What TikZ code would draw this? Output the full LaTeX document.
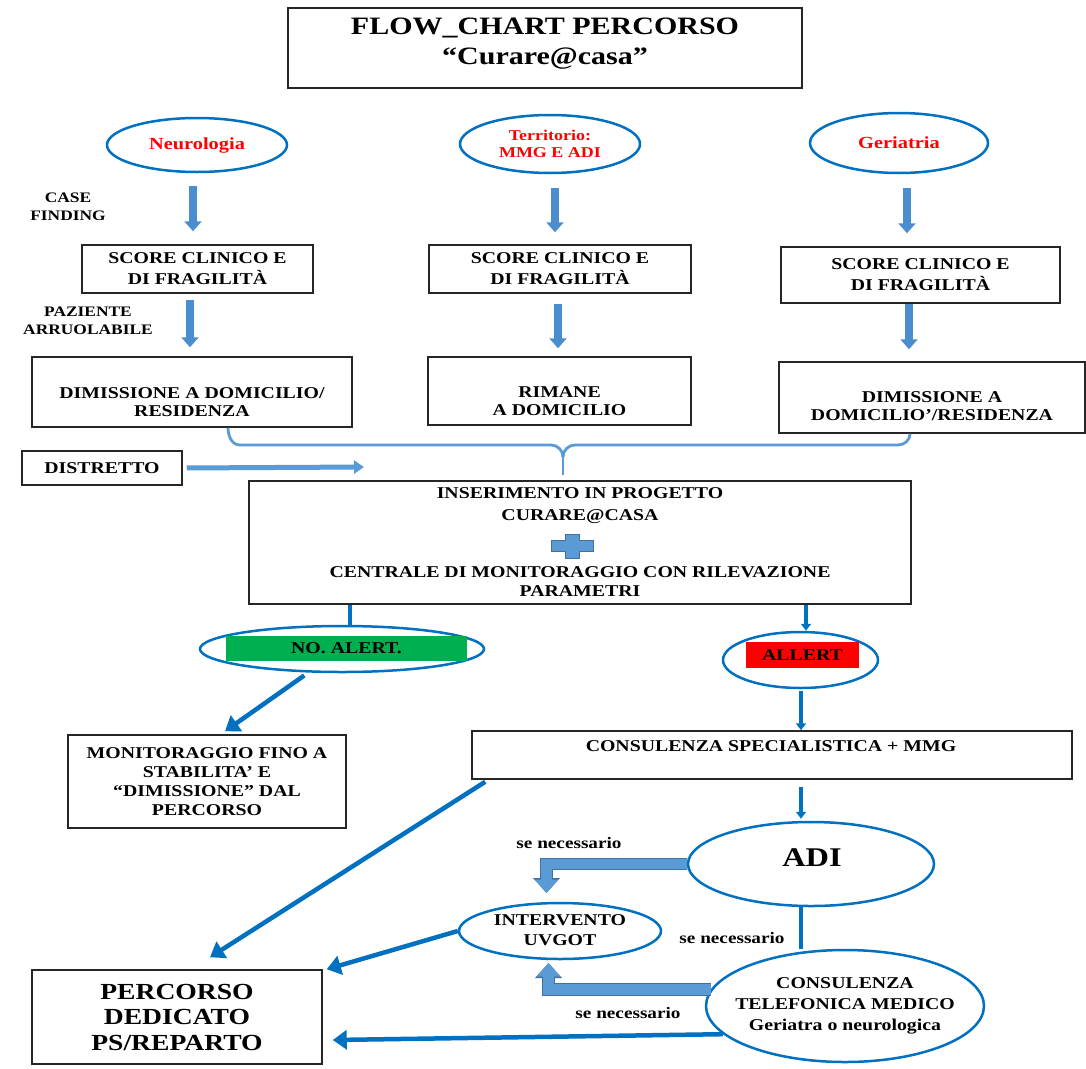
\documentclass[tikz,border=0pt]{standalone}
\usepackage{fontspec}
\setmainfont{Liberation Serif}[FakeStretch=1.2]
\usetikzlibrary{shapes.geometric,arrows.meta,calc}
\definecolor{dblue}{RGB}{0,112,192}
\definecolor{lblue}{RGB}{91,155,213}
\definecolor{tblue}{RGB}{74,142,208}
\definecolor{eblue}{RGB}{65,113,156}
\definecolor{ggreen}{RGB}{0,176,80}
\definecolor{rred}{RGB}{255,0,0}
\newcommand{\fsz}[2]{\fontsize{#1}{#2}\selectfont}
\begin{document}
\begin{tikzpicture}[x=1pt,y=-1pt,
  box/.style={draw=black!85, line width=1.5pt, rectangle, inner sep=0pt},
  oval/.style={draw=dblue, line width=2.5pt, ellipse, inner sep=0pt},
  txt/.style={inner sep=0pt, align=center},
  bt/.style={font=\bfseries\fsz{16.5}{20}},
  dnarrow/.style={draw=tblue, line width=8pt, -{Triangle[width=17pt,length=10pt]}},
  lbarrow/.style={draw=lblue, line width=5pt, -{Triangle[width=13pt,length=10pt]}},
  conn/.style={draw=dblue, line width=4.5pt},
  connarrow/.style={conn, -{Triangle[width=19pt,length=14pt]}},
  smallarrow/.style={draw=dblue, line width=4pt, -{Triangle[width=10pt,length=7pt]}},
  bentout/.style={draw=eblue, line width=12.5pt, line join=miter, -{Triangle[width=26pt,length=15pt]}},
  bentin/.style={draw=lblue, line width=10.5pt, line join=miter, -{Triangle[width=23pt,length=13.5pt]}},
  brace/.style={draw=lblue, line width=2.8pt}
]
\useasboundingbox[fill=white] (0,0) rectangle (1086,1068);

% title
\node[box, minimum width=514pt, minimum height=80pt] (title) at (545,48) {};
\node[txt, font=\bfseries\fsz{25}{30}] (titleT) at (545,44) {FLOW\_CHART PERCORSO\\“Curare@casa”};

% top ellipses
\node[oval, minimum width=180pt, minimum height=54pt, text=rred, font=\bfseries\fsz{17}{20}] (neuro) at (197,145) {Neurologia};
\node[oval, minimum width=180pt, minimum height=58pt, text=rred, align=center, font=\bfseries\fsz{15}{17}] (terr) at (550,144) {Territorio:\\MMG E ADI};
\node[oval, minimum width=178pt, minimum height=60pt, text=rred, font=\bfseries\fsz{17}{20}] (geri) at (899,143) {Geriatria};

% side labels
\node[txt, font=\bfseries\fsz{14.5}{18}] (caseF) at (68,207) {CASE\\FINDING};
\node[txt, font=\bfseries\fsz{14.5}{18}] (paz) at (88,321) {PAZIENTE\\ARRUOLABILE};

% score boxes
\node[box, minimum width=231pt, minimum height=48pt, align=center, font=\bfseries\fsz{16.5}{21}] (score1) at (197.5,269) {SCORE CLINICO E\\DI FRAGILITÀ};
\node[box, minimum width=262pt, minimum height=48pt, align=center, font=\bfseries\fsz{16.5}{21}] (score2) at (560,269) {SCORE CLINICO E\\DI FRAGILITÀ};
\node[box, minimum width=279pt, minimum height=56pt, align=center, font=\bfseries\fsz{16.5}{21}] (score3) at (920.5,275) {SCORE CLINICO E\\DI FRAGILITÀ};

% dimission boxes
\node[box, minimum width=320pt, minimum height=70pt] (dim1) at (192,392) {};
\node[txt, font=\bfseries\fsz{16.5}{18}] (dim1t) at (192,402) {DIMISSIONE A DOMICILIO/\\RESIDENZA};
\node[box, minimum width=263pt, minimum height=68pt] (dim2) at (559.5,391) {};
\node[txt, font=\bfseries\fsz{16.5}{18}] (dim2t) at (559.5,401) {RIMANE\\A DOMICILIO};
\node[box, minimum width=306pt, minimum height=71pt] (dim3) at (932,397.5) {};
\node[txt, font=\bfseries\fsz{16.5}{18}] (dim3t) at (932,406) {DIMISSIONE A\\DOMICILIO’/RESIDENZA};

% column coordinates
\coordinate (cx1) at (193,0);
\coordinate (cx2) at (555,0);
\coordinate (cx3) at (907,0);
\coordinate (cy1) at (190,0);
\coordinate (cy2) at (558,0);
\coordinate (cy3) at (909,0);

% top block arrows
\draw[dnarrow, shorten <=13pt, shorten >=13pt] (neuro.south -| cx1) -- (score1.north -| cx1);
\draw[dnarrow, shorten <=14pt, shorten >=12pt] (terr.south -| cx2) -- (score2.north -| cx2);
\draw[dnarrow, shorten <=14pt, shorten >=13pt] (geri.south -| cx3) -- (score3.north -| cx3);
\draw[dnarrow, shorten <=6pt, shorten >=9pt] (score1.south -| cy1) -- (dim1.north -| cy1);
\draw[dnarrow, shorten <=10pt, shorten >=8pt] (score2.south -| cy2) -- (dim2.north -| cy2);
\draw[dnarrow, shorten <=0pt, shorten >=12pt] (score3.south -| cy3) -- (dim3.north -| cy3);

% distretto
\node[box, minimum width=160pt, minimum height=34pt, bt] (distr) at (102,468) {DISTRETTO};
\coordinate (distrEnd) at (364,467);
\draw[lbarrow, shorten <=4pt] (distr.east) -- (distrEnd);

% main box
\node[box, minimum width=662pt, minimum height=123pt] (main) at (580,542.5) {};
\node[txt, font=\bfseries\fsz{16.5}{22}] (mainA) at (580,506) {INSERIMENTO IN PROGETTO\\CURARE@CASA};
\node[txt, font=\bfseries\fsz{16.5}{19}] (mainB) at (580,582) {CENTRALE DI MONITORAGGIO CON RILEVAZIONE\\PARAMETRI};
\filldraw[fill=lblue, draw=eblue, line width=1pt] (551,540) -- (565,540) -- (565,534) -- (579,534) -- (579,540) -- (593,540) -- (593,551) -- (579,551) -- (579,558) -- (565,558) -- (565,551) -- (551,551) -- cycle;

% brace
\coordinate (bL) at (228,0);
\coordinate (bM) at (563,0);
\coordinate (bR) at (910,0);
\draw[brace] (dim1.south -| bL) to[out=-90,in=180] (240,445) -- (551,445) to[out=0,in=90] (563,457);
\draw[brace, shorten >=5pt] (563,456) -- (main.north -| bM);
\draw[brace] (563,457) to[out=90,in=180] (575,445) -- (898,445) to[out=0,in=-90] (dim3.south -| bR);

% alerts
\node[oval, minimum width=284pt, minimum height=46pt] (noalert) at (342,649) {};
\node[fill=ggreen, minimum width=241pt, minimum height=25pt, inner sep=0pt, bt] (noalertT) at (346.5,648.5) {NO. ALERT.};
\node[oval, minimum width=155pt, minimum height=56pt] (allert) at (800.5,660) {};
\node[fill=rred, minimum width=113pt, minimum height=26pt, inner sep=0pt, bt] (allertT) at (802.5,655) {ALLERT};

\coordinate (c350) at (350,0);
\coordinate (c806) at (806,0);
\coordinate (c801) at (801,0);
\draw[conn] (main.south -| c350) -- (noalert.north -| c350);
\draw[smallarrow] (main.south -| c806) -- (allert.north -| c806);

% monitoraggio
\node[box, minimum width=278pt, minimum height=93pt, align=center, font=\bfseries\fsz{16.5}{19}] (monit) at (207,781.5) {MONITORAGGIO FINO A\\STABILITA’ E\\“DIMISSIONE” DAL\\PERCORSO};
\draw[connarrow, shorten <=5pt] (noalert.215) -- ($(monit.north)+(18,-3)$);

% consulenza
\node[box, minimum width=600pt, minimum height=48pt] (consul) at (772,755) {};
\node[txt, bt] (consulT) at (771,746) {CONSULENZA SPECIALISTICA + MMG};
\draw[smallarrow, shorten <=2pt] (allert.south -| c801) -- (consul.north -| c801);

% ADI
\node[oval, minimum width=246pt, minimum height=84pt] (adi) at (811,864) {};
\node[txt, font=\bfseries\fsz{27}{30}] (adiT) at (812,858) {ADI};
\draw[smallarrow, shorten <=7pt, shorten >=2pt] (consul.south -| c801) -- (adi.north -| c801);

% UVGOT
\node[oval, minimum width=202pt, minimum height=56pt] (uvgot) at (560,931) {};
\node[txt, font=\bfseries\fsz{16.5}{20}] (uvgotT) at (560,930) {INTERVENTO\\UVGOT};

% telefonica
\node[oval, minimum width=278pt, minimum height=112pt] (tel) at (845,1006) {};
\node[txt, font=\bfseries\fsz{16.5}{21}] (telT) at (845,1006) {CONSULENZA\\TELEFONICA MEDICO\\Geriatra o neurologica};
\draw[conn] (adi.south -| c801) -- (tel.north -| c801);

% percorso
\node[box, minimum width=290pt, minimum height=94pt, align=center, font=\bfseries\fsz{23}{25.5}] (perc) at (177,1017) {PERCORSO\\DEDICATO\\PS/REPARTO};

\draw[connarrow] ($(consul.south west)+(14,2)$) -- ($(perc.north)+(33,-12)$);
\draw[connarrow] (uvgot.west) -- ($(perc.north east)+(4,0)$);
\draw[connarrow] (tel.193) -- ($(perc.east)+(10,23)$);

% bent block arrows
\coordinate (u1) at (546.5,893);
\coordinate (u2) at (548.5,963);
\draw[bentout] (adi.west) -| (u1);
\draw[bentin] (adi.west) -| (u1);
\draw[bentout] (tel.173) -| (u2);
\draw[bentin] (tel.173) -| (u2);

% se necessario labels
\node[txt, font=\bfseries\fsz{16}{18}] (sn1) at (569,843) {se necessario};
\node[txt, font=\bfseries\fsz{16}{18}] (sn2) at (732,938) {se necessario};
\node[txt, font=\bfseries\fsz{16}{18}] (sn3) at (628,1013) {se necessario};
\end{tikzpicture}
\end{document}
